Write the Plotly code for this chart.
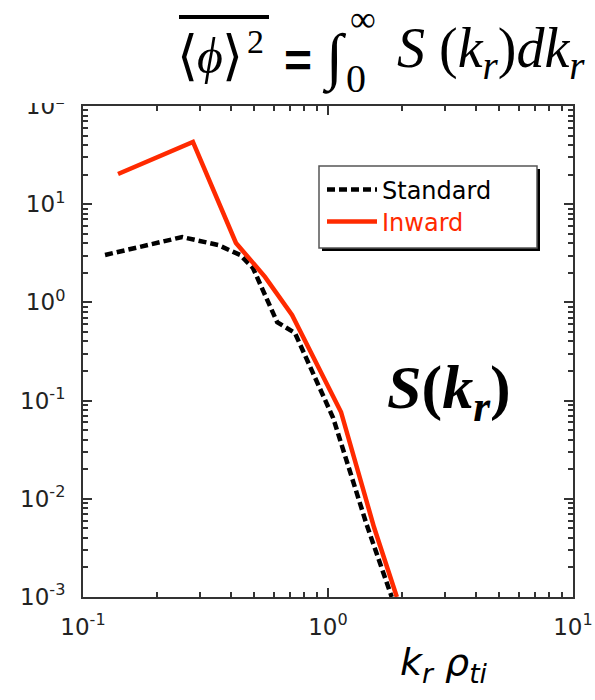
import plotly.graph_objects as go

# ---------------- data ----------------
std_x = [0.123, 0.254, 0.356, 0.438, 0.494, 0.62, 0.733, 1.05, 1.44, 1.82]
std_y = [3.04, 4.63, 3.84, 3.04, 2.24, 0.63, 0.488, 0.0665, 0.0054, 0.001]

inw_x = [0.139, 0.281, 0.421, 0.553, 0.713, 1.13, 1.54, 1.91]
inw_y = [20.3, 43.0, 4.03, 1.82, 0.745, 0.0766, 0.00516, 0.001]

x_tickvals = [0.1, 1, 10]
x_ticktext = ["10<sup>-1</sup>", "10<sup>0</sup>", "10<sup>1</sup>"]
y_tickvals = [0.001, 0.01, 0.1, 1, 10, 100]
y_ticktext = ["10<sup>-3</sup>", "10<sup>-2</sup>", "10<sup>-1</sup>",
              "10<sup>0</sup>", "10<sup>1</sup>", "10<sup>2</sup>"]

series_names = ["Standard", "Inward"]
RED = "#ff2a00"

# minor tick positions (2..9 in every decade)
x_minor = [m * d for d in [0.1, 1] for m in range(2, 10)]
y_minor = [m * d for d in [0.001, 0.01, 0.1, 1, 10] for m in range(2, 10)]

# ---------------- layout geometry ----------------
W, H = 595, 700
L, R, T, B = 83, 573, 106, 597


def xp(px):
    return (px - L) / (R - L)


def yp(py):
    return (B - py) / (B - T)


fig = go.Figure()
fig.add_trace(go.Scatter(
    x=std_x, y=std_y, mode="lines", name=series_names[0], legend="legend",
    line=dict(color="black", width=4.5, dash="8px,4px"),
))
fig.add_trace(go.Scatter(
    x=inw_x, y=inw_y, mode="lines", legend="legend2",
    name="<span style='color:%s'>%s</span>" % (RED, series_names[1]),
    line=dict(color=RED, width=4.5),
))

axis_common = dict(
    showgrid=False, zeroline=False, automargin=False,
    showline=True, linecolor="#333", linewidth=2,
    ticks="inside", ticklen=9, tickwidth=1.5, tickcolor="#333",
    mirror="ticks",
    tickfont=dict(family="DejaVu Sans", size=23, color="#222"),
)

fig.update_xaxes(type="log", range=[-1, 1], tickvals=x_tickvals,
                 ticktext=x_ticktext, ticklabelstandoff=8,
                 minor=dict(ticks="inside", ticklen=5, tickwidth=1.5,
                            tickcolor="#333", tickvals=x_minor, showgrid=False),
                 **axis_common)
fig.update_yaxes(type="log", range=[-3, 2], tickvals=y_tickvals,
                 ticktext=y_ticktext, ticklabelstandoff=11,
                 minor=dict(ticks="inside", ticklen=5, tickwidth=1.5,
                            tickcolor="#333", tickvals=y_minor, showgrid=False),
                 **axis_common)

shapes = [
    # white strip that hides the upper part of the top tick label
    dict(type="rect", xref="paper", yref="paper", x0=-0.3, x1=1.1,
         y0=yp(103), y1=yp(-10), fillcolor="white", line=dict(width=0),
         layer="above"),
    # overline of the formula
    dict(type="line", xref="paper", yref="paper", x0=xp(179), x1=xp(269),
         y0=yp(17), y1=yp(17), line=dict(color="black", width=4),
         layer="above"),
    # legend shadow and box
    dict(type="rect", xref="paper", yref="paper", x0=xp(322), x1=xp(540),
         y0=yp(251), y1=yp(169), fillcolor="black", line=dict(width=0),
         layer="above"),
    dict(type="rect", xref="paper", yref="paper", x0=xp(319), x1=xp(537),
         y0=yp(248), y1=yp(166), fillcolor="white",
         line=dict(color="#555", width=1.5), layer="above"),
]

serif = "Liberation Serif"
ann = [
    dict(text="⟨", x=xp(187), y=yp(56), font=dict(family="DejaVu Serif", size=54)),
    dict(text="<i>ϕ</i>", x=xp(210), y=yp(56), font=dict(family=serif, size=50)),
    dict(text="⟩", x=xp(232), y=yp(56), font=dict(family="DejaVu Serif", size=54)),
    dict(text="2", x=xp(255), y=yp(41), font=dict(family=serif, size=34)),
    dict(text="<b>=</b>", x=xp(298), y=yp(60), font=dict(family="Liberation Sans", size=48)),
    dict(text="∫", x=xp(334), y=yp(58), font=dict(family=serif, size=62)),
    dict(text="∞", x=xp(363), y=yp(19), font=dict(family=serif, size=36)),
    dict(text="0", x=xp(356), y=yp(78), font=dict(family=serif, size=40)),
    dict(text="<i>S</i> (<i>k</i><sub><i>r</i></sub>)<i>dk</i><sub><i>r</i></sub>",
         x=xp(395), y=yp(52), xanchor="left", font=dict(family=serif, size=56)),
    dict(text="<b><i>S</i>(<i>k</i><sub><i>r</i></sub>)</b>",
         x=xp(449), y=yp(391), font=dict(family=serif, size=62)),
    dict(text="<i>k</i><sub><i>r</i></sub> <i>ρ</i><sub><i>ti</i></sub>",
         x=xp(444), y=yp(664), font=dict(family="DejaVu Sans", size=38)),
]
annotations = []
for a in ann:
    d = dict(xref="paper", yref="paper", showarrow=False,
             xanchor="center", yanchor="middle")
    d.update(a)
    d["font"] = dict(d["font"], color="black")
    annotations.append(d)

leg_common = dict(xanchor="left", yanchor="middle",
                  bgcolor="rgba(0,0,0,0)", borderwidth=0,
                  font=dict(family="DejaVu Sans", size=24, color="black"),
                  itemwidth=50)

fig.update_layout(
    template="none",
    width=W, height=H,
    margin=dict(l=L, r=W - R, t=T, b=H - B, pad=0),
    paper_bgcolor="white", plot_bgcolor="white",
    showlegend=True,
    legend=dict(x=xp(322), y=yp(190), **leg_common),
    legend2=dict(x=xp(322), y=yp(222), **leg_common),
    shapes=shapes,
    annotations=annotations,
)

fig.write_html("out.html",
               config={"displayModeBar": False},
               post_script="document.body.style.margin='0px';")
